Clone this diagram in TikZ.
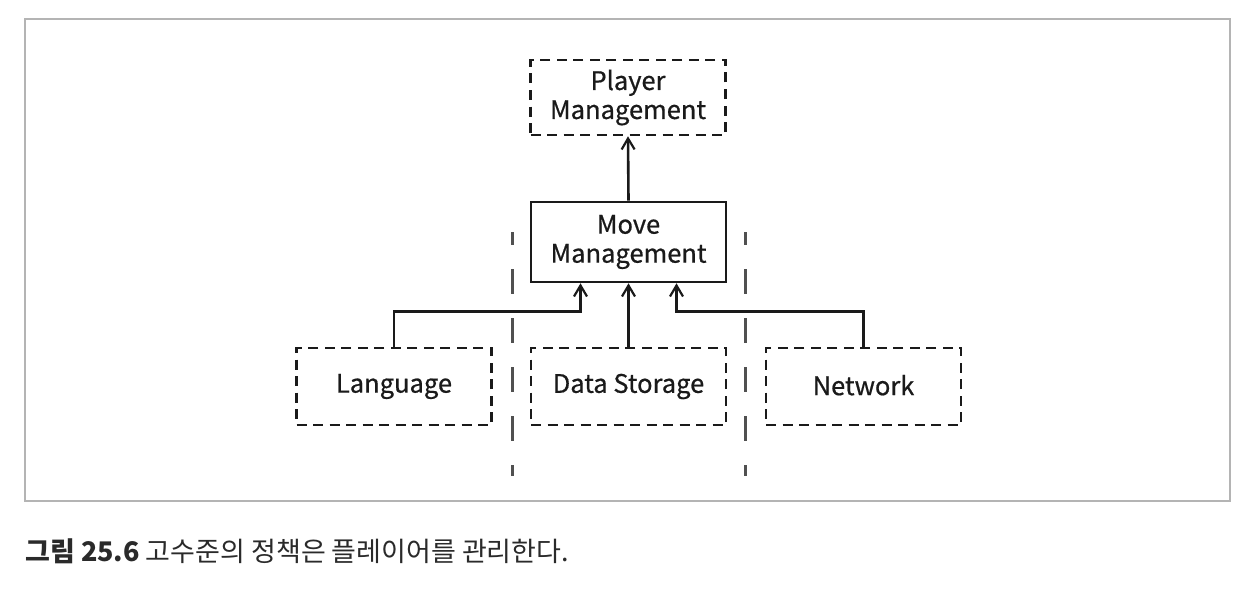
\documentclass[tikz,border=0pt]{standalone}
\usepackage{fontspec}
\setmainfont{Noto Sans CJK KR}
\usetikzlibrary{arrows.meta}
\definecolor{ink}{HTML}{1A1A1A}
\definecolor{framec}{HTML}{B4B4B4}
\definecolor{sepc}{HTML}{505050}
\definecolor{capc}{HTML}{2A2A2A}
\begin{document}
\begin{tikzpicture}[x=1pt,y=-1pt,
  box/.style={draw=ink, line width=2.6pt, minimum width=195pt, text=ink,
    align=center, font=\fontsize{25.5}{29}\selectfont\addfontfeature{FakeBold=0.6}, inner sep=0pt},
  dbox/.style={box, dash pattern=on 10pt off 6.5pt},
  arr/.style={draw=ink, line width=2.6pt, -{Straight Barb[length=11pt,width=13pt,line width=2.2pt]}},
  sep/.style={draw=sepc, line width=3pt, dash pattern=on 25pt off 24pt, dash phase=12pt}]
\useasboundingbox (0,0) rectangle (1248,602);
\fill[white] (0,0) rectangle (1248,602);
\draw[framec, line width=1.8pt] (25,19) rectangle (1230,501);

\node[dbox, minimum height=75pt] (player) at (628,97.5) {Player\\Management};
\node[box, minimum height=80pt] (move) at (628.5,242) {Move\\Management};
\node[dbox, minimum height=77pt] (lang) at (394,386.5) {\raisebox{-1pt}{Language}};
\node[dbox, minimum height=77pt] (data) at (628.5,386.5) {\raisebox{-1pt}{Data Storage}};
\node[dbox, minimum height=77pt] (net) at (863.5,386.5) {\raisebox{3pt}{Network}};

\coordinate (m1) at ([xshift=-48pt]move.south);
\coordinate (m3) at ([xshift=48pt]move.south);

\draw[sep] (512,232) -- (512,476);
\draw[sep] (745,232) -- (745,476);

\draw[arr] (move.north) -- (player.south);
\draw[arr] (data.north) -- (move.south);
\draw[arr] (lang.north) -- ++(0,-35) -| (m1);
\draw[arr] (net.north) -- ++(0,-35) -| (m3);

\node[anchor=west, text=capc, font=\fontsize{27}{30}\selectfont, inner sep=0pt] (cap) at (25,551)
  {\textbf{그림 25.6} 고수준의 정책은 플레이어를 관리한다.};
\end{tikzpicture}
\end{document}
